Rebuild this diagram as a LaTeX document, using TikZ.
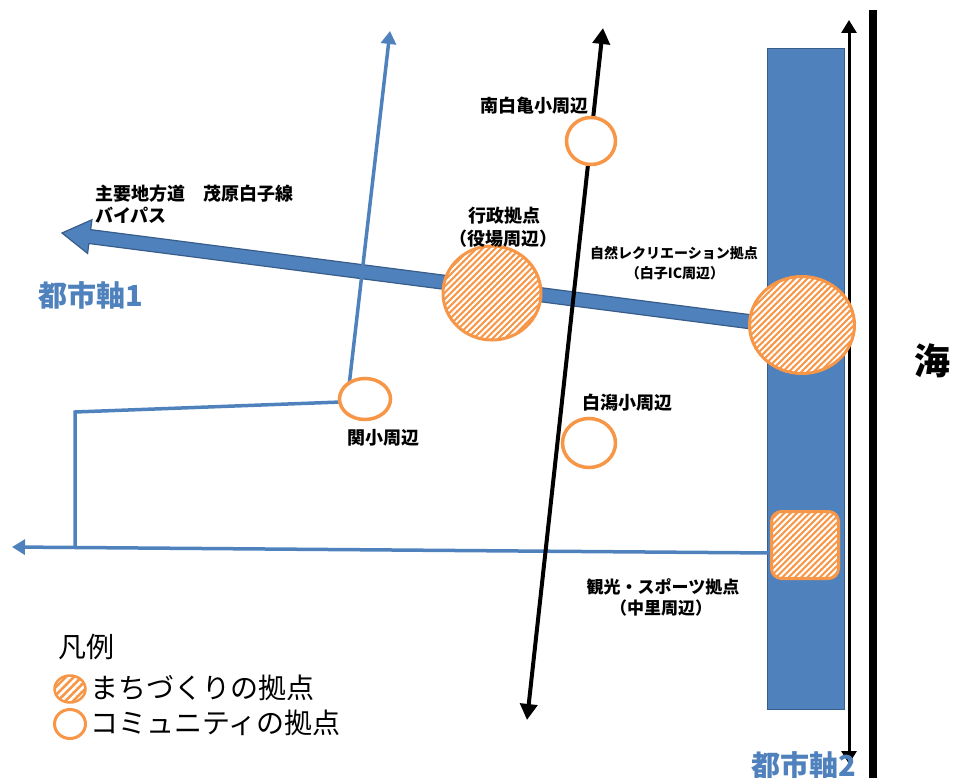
\documentclass[tikz,border=0pt]{standalone}
\usepackage{fontspec}
\newfontfamily\jp{Noto Sans CJK JP}
\usetikzlibrary{arrows.meta,shapes.geometric,patterns.meta,calc}
\definecolor{obl}{HTML}{4F81BD}
\definecolor{obd}{HTML}{385D8A}
\definecolor{ora}{HTML}{F79646}
\begin{document}
\begin{tikzpicture}[x=1pt,y=-1pt,
  lbl/.style={inner sep=0pt, font={\jp\bfseries\fontsize{18}{20}\selectfont}},
  lbls/.style={inner sep=0pt, font={\jp\bfseries\fontsize{14}{16}\selectfont}},
  lblm/.style={inner sep=0pt, font={\jp\bfseries\fontsize{17}{19}\selectfont}},
  axis/.style={inner sep=0pt, text=obl, font={\jp\bfseries\fontsize{29}{32}\selectfont}},
  leg/.style={inner sep=0pt, anchor=west, font={\jp\fontsize{28}{30}\selectfont}},
  hub/.style={draw=ora, line width=3pt, preaction={fill=ora},
    pattern={Lines[angle=45,distance=4.4pt,line width=2.1pt]}, pattern color=white, inner sep=0pt},
  hubl/.style={draw=ora, line width=2.5pt, preaction={fill=ora},
    pattern={Lines[angle=45,distance=5.5pt,line width=2.7pt]}, pattern color=white, inner sep=0pt},
  comm/.style={ellipse, draw=ora, line width=3.5pt, fill=white, inner sep=0pt},
  road/.style={draw=obl, line width=3.5pt},
  btip/.style={-{Triangle[length=13pt,width=15pt]}}
]
\useasboundingbox (0,0) rectangle (953,778);

% city axis 2 band
\node[draw=obd, fill=obl, line width=1.5pt, minimum width=77pt, minimum height=661pt, inner sep=0pt] (ax2) at (806,379) {};

% coordinates
\coordinate (aS) at (760,323);
\coordinate (aT) at (62,233);
\coordinate (aH) at ($(aT)!28pt!(aS)$);
\coordinate (sekiIn) at (349,386);
\coordinate (top1) at (390,31);
\coordinate (sekiW) at (341,402);
\coordinate (corner) at (75,412);
\coordinate (join) at (75,548);
\coordinate (kanW) at (772,553);
\coordinate (left2) at (12,547);
\coordinate (bTop) at (603,28);
\coordinate (bBot) at (527,720);
\coordinate (rTop) at (849,20);
\coordinate (rBot) at (849,764);
\coordinate (seaT) at (873,10);
\coordinate (seaB) at (873,778);

% thick arrow (bypass)
\filldraw[fill=obl, draw=obd, line width=1.2pt]
  ($(aS)!7pt!90:(aT)$) -- ($(aH)!7pt!-90:(aS)$) -- ($(aH)!17pt!-90:(aS)$) -- (aT)
  -- ($(aH)!17pt!90:(aS)$) -- ($(aH)!7pt!90:(aS)$) -- ($(aS)!7pt!-90:(aT)$) -- cycle;

% blue roads
\draw[road, btip] (kanW) -- (left2);
\draw[road, line join=miter] (sekiW) -- (corner) -- (join);
\draw[road, btip] (sekiIn) -- (top1);

% black axis line
\draw[line width=4pt, {Triangle[length=16pt,width=17pt]}-{Triangle[length=16pt,width=17pt]}] (bTop) -- (bBot);
% right double arrow
\draw[line width=3pt, {Triangle[length=13pt,width=15pt]}-{Triangle[length=13pt,width=15pt]}] (rTop) -- (rBot);
% sea line
\draw[line width=8.5pt] (seaT) -- (seaB);

% hubs
\node[hub, ellipse, minimum width=105pt, minimum height=97pt] (shizen) at (802,325) {};
\node[hub, ellipse, minimum width=98pt, minimum height=94pt] (gyosei) at (492,293) {};
\node[hub, rounded corners=10pt, minimum width=67pt, minimum height=67pt] (kanko) at (805,545) {};

% community points
\node[comm, minimum width=49pt, minimum height=47pt] (nanpaku) at (591,141) {};
\node[comm, minimum width=53pt, minimum height=49pt] (shirakata) at (589,443) {};
\node[comm, minimum width=51pt, minimum height=41pt] (seki) at (365,399) {};

% labels
\node[lbl, anchor=west] (byp1) at (95,194) {主要地方道　茂原白子線};
\node[lbl, anchor=west] (byp2) at (95,215) {バイパス};
\node[lbl] (lnan) at (534,106) {南白亀小周辺};
\node[lbl] (lgy1) at (504,216) {行政拠点};
\node[lbl] (lgy2) at (503,239) {（役場周辺）};
\node[lbls] (lsz1) at (674,253) {自然レクリエーション拠点};
\node[lbls] (lsz2) at (675,273) {（白子IC周辺）};
\node[lbl] (lseki) at (383,438) {関小周辺};
\node[lbl] (lshi) at (627,403) {白潟小周辺};
\node[lblm] (lkan1) at (663,587) {観光・スポーツ拠点};
\node[lblm] (lkan2) at (661,608) {（中里周辺）};
\node[axis] (lax1) at (91,295) {都市軸1};
\node[axis] (lax2) at (804,765) {都市軸2};
\node[inner sep=0pt, font={\jp\bfseries\fontsize{36}{38}\selectfont}] (umi) at (932,361) {海};

% legend
\node[leg] (legT) at (58,647) {凡例};
\node[hubl, ellipse, minimum width=31pt, minimum height=27pt] (legH) at (70,689) {};
\node[leg] (legHt) at (90,688) {まちづくりの拠点};
\node[comm, line width=3pt, minimum width=31pt, minimum height=29pt] (legC) at (70,724) {};
\node[leg] (legCt) at (90,723) {コミュニティの拠点};
\end{tikzpicture}
\end{document}
